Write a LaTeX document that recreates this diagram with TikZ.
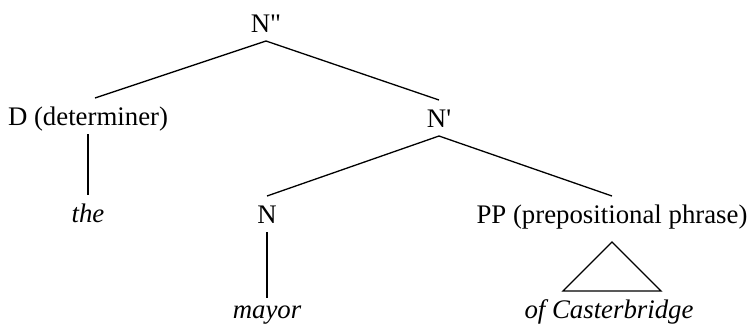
\documentclass[tikz,border=0pt]{standalone}
\usepackage{fontspec}
\setmainfont{Liberation Serif}[Ligatures=TeXOff]
\usetikzlibrary{calc}
\tikzstyle{cat}=[anchor=base, inner sep=0pt, text height=18pt, text depth=0pt, outer ysep=9pt, font=\fontsize{26.8}{32}\selectfont]
\tikzstyle{word}=[cat, font=\fontsize{26.8}{32}\selectfont\itshape]

\begin{document}
\begin{tikzpicture}[x=1pt, y=-1pt, line width=1.3pt]%
	\useasboundingbox (0,0) rectangle (751,325);

	\begin{scope}
		\draw  (266,32)   node (Node_N2)   [cat]   {N"};
		\draw  (88,125)   node (Node_D)    [cat]   {D (determiner)};
		\draw  (439,127)  node (Node_N1)   [cat]   {N'};
		\draw  (88,222)   node (Word_the)  [word]  {the};
		\draw  (267,223)  node (Node_N)    [cat]   {N};
		\draw  (612,223)  node (Node_PP)   [cat]   {PP (prepositional phrase)};
		\draw  (267,318)  node (Word_mayor) [word, text height=11pt] {mayor};
		\draw  (609,318)  node (Word_cast) [word]  {of Casterbridge};

		\draw (Node_N2.south) -- ($(Node_D.north)+(7,0)$);
		\draw (Node_N2.south) -- (Node_N1.north);
		\draw (Node_D.south)  -- (Word_the.north);
		\draw (Node_N1.south) -- (Node_N.north);
		\draw (Node_N1.south) -- (Node_PP.north);
		\draw (Node_N.south)  -- (Word_mayor.north);

		% triangle under PP
		\draw ($(Node_PP.south)+(0,10)$) -- ($(Node_PP.south |- Word_cast.north)+(-49,0)$)
			-- ($(Node_PP.south |- Word_cast.north)+(49,0)$) -- cycle;
	\end{scope}

\end{tikzpicture}
\end{document}
